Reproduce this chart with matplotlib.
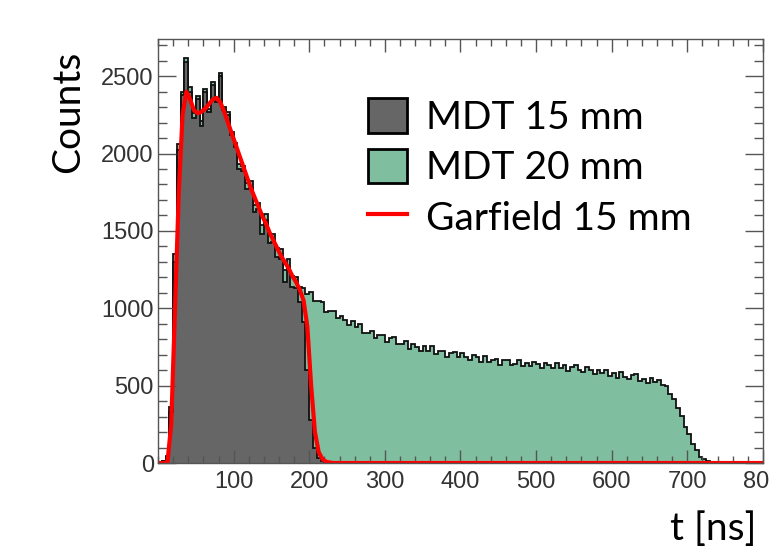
import matplotlib
matplotlib.use('Agg')
import matplotlib.pyplot as plt
import numpy as np
from matplotlib.patches import Patch
from matplotlib.lines import Line2D
from matplotlib.ticker import MultipleLocator

# drift time histograms, 5 ns bins from 0 to 800 ns
bin_width = 5
t_max = 800

# MDT 15 mm (measured)
mdt15 = [8, 12, 40, 330, 1300, 2020, 2380, 2590, 2400, 2230,
         2350, 2180, 2400, 2270, 2440, 2330, 2500, 2280, 2250, 2120,
         2040, 1900, 1890, 1770, 1780, 1620, 1640, 1480, 1570, 1420,
         1430, 1330, 1320, 1170, 1270, 1140, 1130, 1040, 910, 600,
         280, 100, 30, 12, 5] + [0] * 115

# MDT 20 mm (measured)
mdt20 = [6, 10, 45, 360, 1350, 2060, 2400, 2620, 2430, 2260,
         2370, 2210, 2420, 2290, 2460, 2350, 2520, 2300, 2270, 2140,
         2070, 1930, 1920, 1810, 1820, 1670, 1680, 1540, 1610, 1480,
         1480, 1390, 1380, 1250, 1320, 1210, 1200, 1140, 1130, 1090,
         1105, 1050, 1045, 1040, 975, 980, 985, 935, 950, 925,
         895, 918, 881, 899, 842, 840, 855, 805, 825, 830,
         785, 806, 812, 767, 770, 788, 737, 766, 753, 727,
         755, 723, 754, 705, 722, 727, 688, 713, 718, 682,
         714, 682, 666, 696, 684, 656, 692, 654, 666, 675,
         634, 663, 668, 633, 642, 668, 624, 646, 629, 652,
         643, 615, 649, 633, 611, 649, 617, 634, 597, 620,
         631, 600, 590, 622, 602, 574, 604, 580, 604, 564,
         584, 552, 586, 558, 542, 566, 574, 532, 544, 518,
         551, 522, 539, 505, 500, 445, 415, 355, 305, 235,
         185, 125, 85, 40, 28, 12, 9, 6, 8, 4,
         7, 5, 3, 6, 4, 8, 5, 3, 6, 4]

# Garfield simulation, 15 mm
garfield = [0, 0, 5, 250, 1000, 1750, 2250, 2400, 2350, 2280,
            2260, 2270, 2290, 2320, 2350, 2360, 2330, 2270, 2200, 2130,
            2060, 1990, 1920, 1850, 1780, 1720, 1660, 1600, 1550, 1490,
            1440, 1390, 1340, 1300, 1260, 1210, 1170, 1120, 1050, 880,
            500, 200, 70, 25, 8, 3] + [0] * 114

labels = ['MDT 15 mm', 'MDT 20 mm', 'Garfield 15 mm']
gray = '#666666'
green = '#7fbf9f'

edges = np.arange(0, t_max + bin_width, bin_width)
centers = edges[:-1] + bin_width / 2

fig = plt.figure(figsize=(7.7, 5.49), dpi=100)
ax = fig.add_axes([0.2052, 0.1566, 0.7857, 0.7723])

ax.stairs(mdt20, edges, fill=True, color=green, lw=0)
ax.stairs(mdt20, edges, color='#111111', lw=1.3)
ax.stairs(mdt15, edges, fill=True, color=gray, lw=0)
ax.stairs(mdt15, edges, color='#111111', lw=1.3)
ax.plot(centers, garfield, color='red', lw=3, solid_joinstyle='round')

ax.set_xlim(0, t_max)
ax.set_ylim(0, 2740)

ax.xaxis.set_major_locator(MultipleLocator(100))
ax.xaxis.set_minor_locator(MultipleLocator(20))
ax.yaxis.set_major_locator(MultipleLocator(500))
ax.yaxis.set_minor_locator(MultipleLocator(100))

ax.tick_params(axis='both', which='both', direction='in', top=True, right=True,
               color='#555555', width=1.0)
ax.tick_params(axis='x', which='major', length=9.5, pad=6)
ax.tick_params(axis='x', which='minor', length=4.7)
ax.tick_params(axis='y', which='major', length=13, pad=3)
ax.tick_params(axis='y', which='minor', length=6.5)
for sp in ax.spines.values():
    sp.set_color('#555555')
    sp.set_linewidth(1.0)

xt = [100, 200, 300, 400, 500, 600, 700, 800]
ax.set_xticks(xt)
ax.set_xticklabels(['100', '200', '300', '400', '500', '600', '700', '800'])
for lab in ax.get_xticklabels() + ax.get_yticklabels():
    lab.set_fontfamily('Liberation Sans')
    lab.set_fontsize(17)
    lab.set_color('#333333')

fig.text(68 / 770, 1 - 112 / 549, 'Counts', rotation=90, ha='center', va='center',
         fontsize=28, family='Lato')
fig.text(713 / 770, 1 - 529 / 549, 't [ns]', ha='center', va='center',
         fontsize=28, family='Lato')

handles = [Patch(facecolor=gray, edgecolor='black', lw=2),
           Patch(facecolor=green, edgecolor='black', lw=2),
           Line2D([], [], color='red', lw=3)]
leg = ax.legend(handles, labels, loc='upper left',
                bbox_to_anchor=(368 / 770, 1 - 98 / 549),
                bbox_transform=fig.transFigure, frameon=False,
                prop={'family': 'Lato', 'size': 28},
                handlelength=1.0, handleheight=1.0, handletextpad=0.5,
                labelspacing=0.33, borderpad=0, borderaxespad=0)

fig.savefig('out.png', dpi=100)
